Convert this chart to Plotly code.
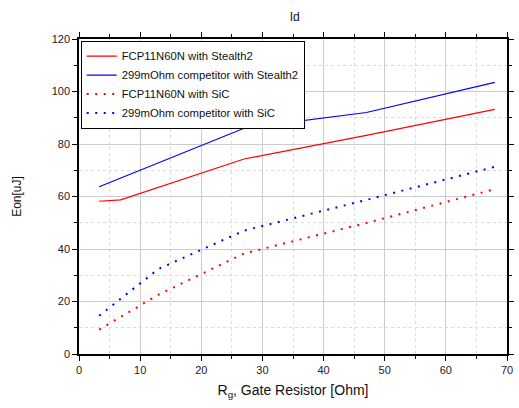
import plotly.graph_objects as go

# Data
rg_red_stealth = [3.3, 6.8, 27, 47, 68]
eon_red_stealth = [58.2, 58.7, 74.3, 83.3, 93.2]

rg_blue_stealth = [3.3, 27, 47, 68]
eon_blue_stealth = [63.7, 86.0, 92.0, 103.5]

rg_red_sic = [3.3, 13, 27, 47, 68]
eon_red_sic = [9.3, 22.6, 38.3, 49.9, 62.8]

rg_blue_sic = [3.3, 13, 27, 47, 68]
eon_blue_sic = [14.6, 32.4, 47.0, 58.7, 71.3]

names = ["FCP11N60N with Stealth2", "299mOhm competitor with Stealth2",
         "FCP11N60N with SiC", "299mOhm competitor with SiC"]

FONT = "Liberation Sans, Arial, sans-serif"

fig = go.Figure()
fig.add_trace(go.Scatter(x=rg_red_stealth, y=eon_red_stealth, mode="lines", name=names[0],
                         line=dict(color="#ff0000", width=1.2)))
fig.add_trace(go.Scatter(x=rg_blue_stealth, y=eon_blue_stealth, mode="lines", name=names[1],
                         line=dict(color="#0000ff", width=1.2)))
fig.add_trace(go.Scatter(x=rg_red_sic, y=eon_red_sic, mode="lines", name=names[2],
                         line=dict(color="#ff0000", width=2, dash="2px,6.5px")))
fig.add_trace(go.Scatter(x=rg_blue_sic, y=eon_blue_sic, mode="lines", name=names[3],
                         line=dict(color="#0000ff", width=2, dash="2px,6.5px")))

axis_common = dict(
    showline=True, linecolor="black", linewidth=1.5, mirror="ticks",
    ticks="outside", ticklen=5, tickcolor="black", tickwidth=1,
    showgrid=True, gridcolor="#cccccc", gridwidth=1,
    zeroline=False, automargin=False,
    tickfont=dict(family=FONT, size=11, color="#222"),
)

fig.update_xaxes(range=[0, 70], dtick=10, **axis_common,
                 minor=dict(dtick=5, showgrid=True, gridcolor="#dddddd", griddash="dot",
                            ticks="outside", ticklen=3, tickcolor="black"),
                 title=dict(text="R<sub>g</sub>, Gate Resistor [Ohm]",
                            font=dict(family=FONT, size=14, color="#111"), standoff=10))
fig.update_yaxes(range=[0, 120], dtick=20, **axis_common,
                 minor=dict(dtick=10, showgrid=True, gridcolor="#dddddd", griddash="dot",
                            ticks="outside", ticklen=3, tickcolor="black"),
                 title=dict(text="Eon[uJ]", font=dict(family=FONT, size=12, color="#111"),
                            standoff=27))

fig.update_layout(
    width=519, height=408,
    margin=dict(l=79, r=12, t=39, b=54),
    paper_bgcolor="white", plot_bgcolor="white",
    title=dict(text="Id", x=0.568, xanchor="center", y=0.958, yanchor="middle",
               font=dict(family=FONT, size=12, color="#111")),
    showlegend=True,
    legend=dict(x=0.004, y=0.995, xanchor="left", yanchor="top",
                bgcolor="white", bordercolor="black", borderwidth=1,
                font=dict(family=FONT, size=11.3, color="#111"),
                tracegroupgap=0, itemwidth=30),
)

fig.write_html("out.html", config={"displayModeBar": False},
               post_script="document.body.style.margin='0';")
